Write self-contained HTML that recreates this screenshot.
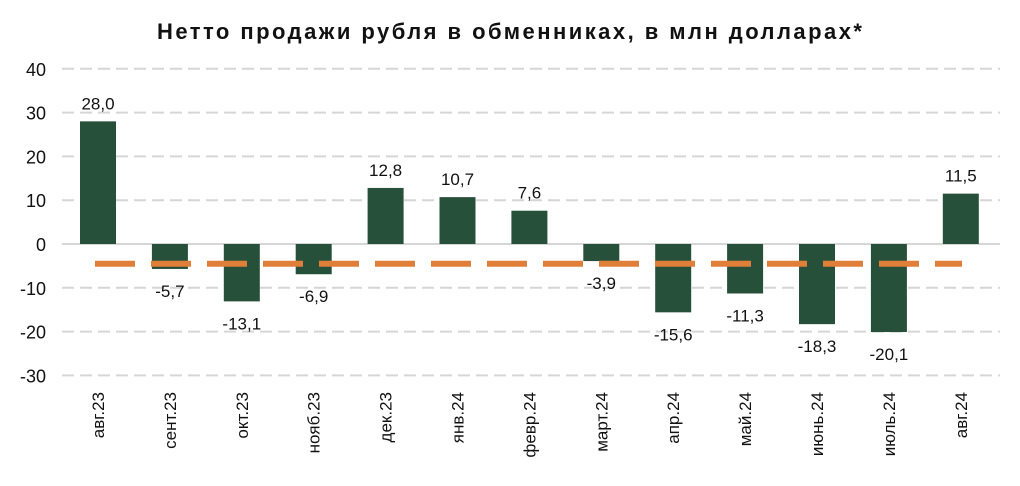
<!DOCTYPE html>
<html><head><meta charset="utf-8"><style>
html,body{margin:0;padding:0;background:#fff;}
svg text{font-family:"Liberation Sans",sans-serif;fill:#111;}
</style></head><body>
<svg id="chart" width="1020" height="481" xmlns="http://www.w3.org/2000/svg">
<text x="157" y="39" font-size="22" font-weight="bold" textLength="705" lengthAdjust="spacing">Нетто продажи рубля в обменниках, в млн долларах*</text>
<g id="grid"></g><g id="bars"></g><g id="labels"></g>
</svg>
<script>
const categories=["авг.23","сент.23","окт.23","нояб.23","дек.23","янв.24","февр.24","март.24","апр.24","май.24","июнь.24","июль.24","авг.24"];
const values=[28.0,-5.7,-13.1,-6.9,12.8,10.7,7.6,-3.9,-15.6,-11.3,-18.3,-20.1,11.5];
const ticks=[40,30,20,10,0,-10,-20,-30];
const avgValue=-4.5;
const NS="http://www.w3.org/2000/svg";
const y=v=>244-v*4.38;
const x=i=>98+i*71.9;
const svg=document.getElementById('chart');
const g=document.getElementById('grid'),b=document.getElementById('bars'),l=document.getElementById('labels');
function mk(t,a,p){const e=document.createElementNS(NS,t);for(const k in a)e.setAttribute(k,a[k]);p.appendChild(e);return e;}
ticks.forEach(t=>{
 const ln=mk('line',{x1:62,x2:1000,y1:y(t),y2:y(t),stroke:'#d6d6d6','stroke-width':2,'stroke-dasharray':t===0?'none':'12,6'},g);
 
 
 const tx=mk('text',{x:46,y:y(t)+7,'text-anchor':'end','font-size':18},g);tx.textContent=t;
 
 
});
values.forEach((v,i)=>{
 const r=mk('rect',{x:x(i)-18,y:Math.min(y(v),y(0)),width:36,height:Math.abs(y(v)-y(0)),fill:'#27503a'},b);
 
 
 const t=mk('text',{x:x(i),y:v>=0?y(v)-12:y(v)+28,'text-anchor':'middle','font-size':17},l);
 t.textContent=v.toFixed(1).replace('.',',');
 
 
 const c=mk('text',{x:0,y:0,'text-anchor':'end','font-size':17,transform:`translate(${x(i)+6},392) rotate(-90)`},l);
 c.textContent=categories[i];
 
 
});
const av=mk('line',{x1:95,x2:962,y1:y(avgValue),y2:y(avgValue),stroke:'#e07f3a','stroke-width':6,'stroke-dasharray':'40,16'},svg);


</script>
</body></html>
